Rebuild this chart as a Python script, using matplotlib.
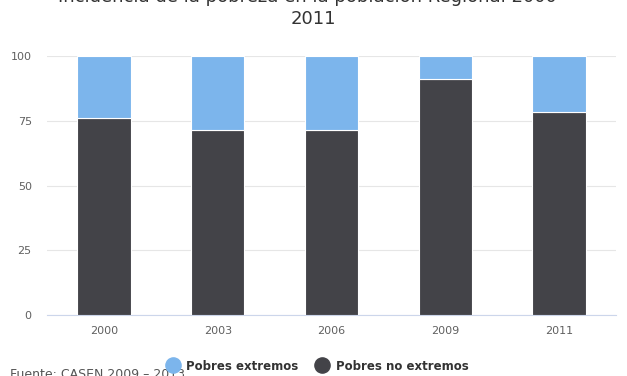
import numpy as np
import matplotlib.pyplot as plt

years = ['2000', '2003', '2006', '2009', '2011']
no_extremos = [76.0, 71.5, 71.5, 91.0, 78.3]
extremos = [24.0, 28.5, 28.5, 9.0, 21.7]
yticks = [0, 25, 50, 75, 100]

light = '#7cb5ec'
dark = '#434348'

fig = plt.figure(figsize=(6.27, 3.76), dpi=100)
ax = fig.add_axes([47/627, 1-315/376, 569/627, 259/376])

x = np.arange(len(years))
ax.bar(x, no_extremos, width=0.47, color=dark, edgecolor='white', linewidth=0.8, zorder=3)
ax.bar(x, extremos, width=0.47, bottom=no_extremos, color=light, edgecolor='white', linewidth=0.8, zorder=3)

ax.set_xlim(-0.5, len(years)-0.5)
ax.set_ylim(0, 100)
ax.set_yticks(yticks)
ax.set_yticklabels([str(v) for v in yticks], color='#606060', fontsize=8)
ax.set_xticks(x)
ax.set_xticklabels(years, color='#606060', fontsize=8)
ax.tick_params(axis='y', length=0, pad=11)
ax.tick_params(axis='x', length=0, pad=8)
ax.grid(axis='y', color='#e6e6e6', linewidth=0.8, zorder=0)
for s in ['top', 'right', 'left']:
    ax.spines[s].set_visible(False)
ax.spines['bottom'].set_color('#ccd6eb')

# title (top line is cut off by the image edge, as in the source)
fig.text(0.5, 1-8/376, 'Incidencia de la pobreza en la población Regional 2000 -\n2011',
         ha='center', va='center', fontsize=13, color='#333333', linespacing=1.25)

# legend and source note
ax_leg = fig.add_axes([0, 0, 1, 1], facecolor='none')
ax_leg.set_xlim(0, 627)
ax_leg.set_ylim(376, 0)
ax_leg.axis('off')
ax_leg.text(10, 375, 'Fuente: CASEN 2009 – 2013', fontsize=9, color='#555555', va='center')
ax_leg.scatter([173], [365], s=120, color=light, zorder=3)
ax_leg.text(186, 366, 'Pobres extremos', fontsize=8.5, fontweight='bold', color='#333333', va='center')
ax_leg.scatter([322], [365], s=120, color=dark, zorder=3)
ax_leg.text(336, 366, 'Pobres no extremos', fontsize=8.5, fontweight='bold', color='#333333', va='center')

fig.savefig('out.png', dpi=100)
